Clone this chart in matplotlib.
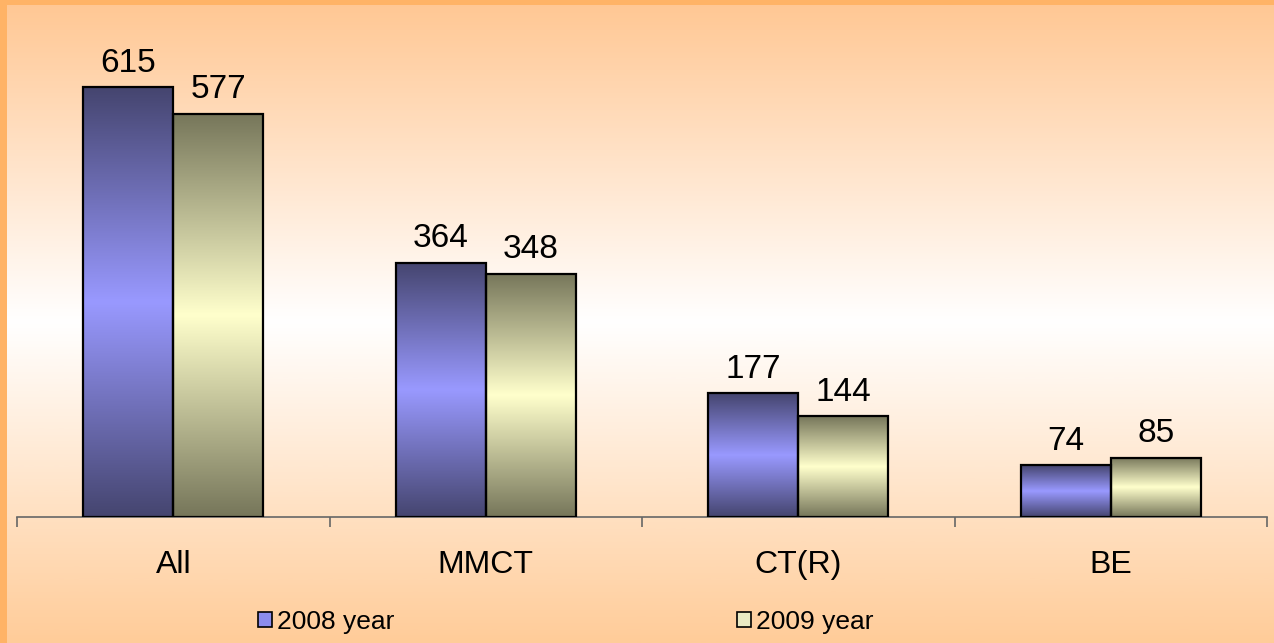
import numpy as np
import matplotlib
matplotlib.use("Agg")
import matplotlib.pyplot as plt
from matplotlib.colors import LinearSegmentedColormap
from matplotlib.patches import Rectangle

categories = ["All", "MMCT", "CT(R)", "BE"]
series_names = ["2008 year", "2009 year"]
values_2008 = [615, 364, 177, 74]
values_2009 = [577, 348, 144, 85]

plt.rcParams['font.family'] = ['Liberation Sans', 'DejaVu Sans']

W, H = 1274, 643
fig = plt.figure(figsize=(W / 100, H / 100), dpi=100)

# background gradient
bg = fig.add_axes([0, 0, 1, 1], zorder=-10)
bg_cmap = LinearSegmentedColormap.from_list(
    "bg", [(0.0, "#FFCC99"), (0.5, "#FFFFFF"), (1.0, "#FFC793")])
grad = np.linspace(0, 1, 512).reshape(-1, 1)
bg.imshow(grad, aspect="auto", cmap=bg_cmap, extent=[0, 1, 0, 1], origin="lower")
bg.set_xlim(0, 1)
bg.set_ylim(0, 1)
bg.axis("off")
# orange frame on top and left
bg.add_patch(Rectangle((0, 1 - 5 / H), 1, 5 / H, color="#FFB366", lw=0))
bg.add_patch(Rectangle((0, 0), 7 / W, 1, color="#FFB366", lw=0))

ax = fig.add_axes([17 / W, 126 / H, (1267 - 17) / W, 489.4 / H])
ax.patch.set_alpha(0)

x = np.arange(len(categories))
bw = 0.288
off = 0.144

cmap_blue = LinearSegmentedColormap.from_list(
    "b", [(0, "#45456F"), (0.5, "#9999FF"), (1, "#45456F")])
cmap_olive = LinearSegmentedColormap.from_list(
    "o", [(0, "#76765A"), (0.5, "#FFFFCC"), (1, "#76765A")])

vgrad = np.linspace(0, 1, 256).reshape(-1, 1)
for vals, dx, cmap in [(values_2008, -off, cmap_blue), (values_2009, off, cmap_olive)]:
    bars = ax.bar(x + dx, vals, width=bw, facecolor="none",
                  edgecolor="black", linewidth=1.6, zorder=3)
    for b, v in zip(bars, vals):
        x0, w, h = b.get_x(), b.get_width(), b.get_height()
        im = ax.imshow(vgrad, aspect="auto", cmap=cmap,
                       extent=[x0, x0 + w, 0, h], zorder=2, origin="lower")
        im.set_clip_path(b)
        ax.annotate(f"{v}", (x0 + w / 2, h), xytext=(0, 6),
                    textcoords="offset points", ha="center", va="bottom",
                    fontsize=24, color="black")

ax.set_xlim(-0.5, len(categories) - 0.5)
ax.set_ylim(0, 700)
ax.set_xticks(x)
ax.set_xticklabels(categories, fontsize=23)
ax.set_xticks(np.arange(-0.5, len(categories), 1.0), minor=True)
ax.tick_params(axis="x", which="major", length=0, pad=24)
ax.tick_params(axis="x", which="minor", length=7.5, width=1.2, color="#666666",
               direction="out")
ax.set_yticks([])
for s in ["left", "right", "top"]:
    ax.spines[s].set_visible(False)
ax.spines["bottom"].set_color("#666666")
ax.spines["bottom"].set_linewidth(1.2)

handles = [Rectangle((0, 0), 1, 1, facecolor="#8C8CEC", edgecolor="black", lw=1.2),
           Rectangle((0, 0), 1, 1, facecolor="#EAEAC4", edgecolor="black", lw=1.2)]
for hnd, name, xp in zip(handles, series_names, [258 / W, 737 / W]):
    leg = fig.legend([hnd], [name], loc="center left",
                     bbox_to_anchor=(xp, 21 / H), frameon=False, fontsize=19,
                     handlelength=0.52, handleheight=0.52, handletextpad=0.2,
                     borderpad=0, borderaxespad=0)

fig.savefig("out.png", dpi=100)
